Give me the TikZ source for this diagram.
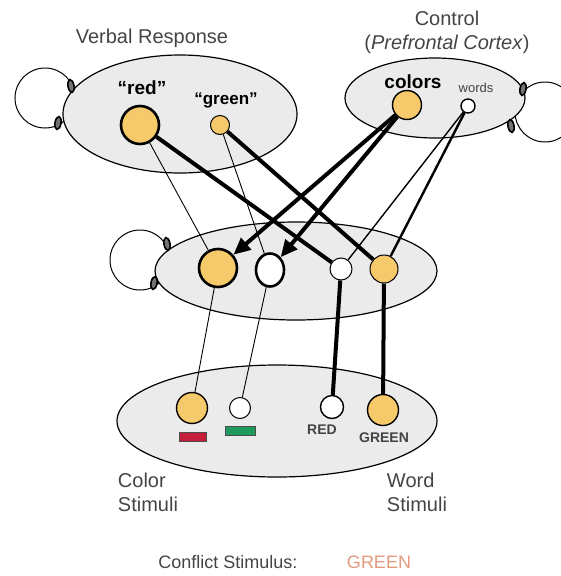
\documentclass[tikz,border=0pt]{standalone}
\usepackage{xcolor}
\usepackage{fontspec}
\setmainfont{Liberation Sans}
\usepackage{tikz}
\usetikzlibrary{arrows.meta,shapes.geometric}

\definecolor{poolgray}{HTML}{EBEBEB}
\definecolor{active}{HTML}{F6C96A}
\definecolor{txtgray}{HTML}{444444}
\definecolor{barred}{HTML}{C41E3A}
\definecolor{bargreen}{HTML}{1E9A5C}
\definecolor{conflict}{HTML}{E29A7E}

\tikzset{
  pool/.style={ellipse,draw,line width=1.2pt,fill=poolgray,inner sep=0pt},
  ring/.style={circle,draw,line width=1pt,inner sep=0pt,minimum size=60pt},
  syn/.style={ellipse,draw,line width=1.6pt,fill=black!55,inner sep=0pt,minimum width=6pt,minimum height=13pt},
  unit/.style={circle,draw,line width=1pt,inner sep=0pt,fill=white},
  on/.style={unit,fill=active},
  weak/.style={line width=0.9pt},
  mid/.style={line width=2.4pt},
  strong/.style={line width=4pt},
  attn/.style={strong,-{Triangle[length=17pt,width=15pt]}},
  title/.style={text=txtgray,font=\fontsize{20}{24}\selectfont,align=center},
  lab/.style={font=\fontsize{17}{20}\selectfont\bfseries}
}

\begin{document}
\begin{tikzpicture}[x=1pt,y=-1pt]
  \useasboundingbox (0,0) rectangle (560,576);

  \node[ring] (vloop) at (45,98) {};
  \node[ring] (hloop) at (140,260) {};
  \node[ring] (cloop) at (545,112) {};

  \node[pool,minimum width=234pt,minimum height=118pt] (verbal) at (180,114) {};
  \node[pool,minimum width=180pt,minimum height=80pt] (control) at (435,98) {};
  \node[pool,minimum width=282pt,minimum height=98pt] (hidden) at (296,271) {};
  \node[pool,minimum width=320pt,minimum height=112pt] (input) at (277,421) {};

  \node[syn,rotate=10] (vs1) at (71,86) {};
  \node[syn,rotate=-10] (vs2) at (58,123) {};
  \node[syn,rotate=10] (hs1) at (167,244) {};
  \node[syn,rotate=-10] (hs2) at (154,283) {};
  \node[syn,rotate=-10] (cs1) at (523,89) {};
  \node[syn,rotate=10] (cs2) at (511,126) {};

  \node[title] (vtitle) at (152,38) {Verbal Response};
  \node[title] (ctitle) at (447,32) {Control\\(\textit{Prefrontal Cortex})};

  \node[on,line width=2.6pt,minimum size=38pt] (red) at (140,125) {};
  \node[on,minimum size=19pt] (green) at (220,125) {};
  \node[on,line width=1.4pt,minimum size=29pt] (colors) at (407,105) {};
  \node[unit,line width=1.4pt,minimum size=14pt] (words) at (468,106) {};
  \node[lab,font=\fontsize{19}{20}\selectfont\bfseries] (redlab) at (142,88) {``red''};
  \node[lab] (greenlab) at (226,100) {``green''};
  \node[lab,font=\fontsize{19}{20}\selectfont\bfseries] (colorslab) at (413,82) {colors};
  \node[text=txtgray,font=\fontsize{13}{14}\selectfont] (wordslab) at (476,88) {words};

  \node[on,line width=2.6pt,minimum size=38pt] (hr) at (218,268) {};
  \node[ellipse,draw,fill=white,line width=2.6pt,inner sep=0pt,minimum width=28pt,minimum height=33pt] (hg) at (270,270) {};
  \node[unit,minimum size=22pt] (hR) at (341,269) {};
  \node[on,minimum size=28pt] (hG) at (384,269) {};

  \node[on,line width=1.4pt,minimum size=31pt] (cr) at (192,408) {};
  \node[unit,minimum size=21pt] (cg) at (240,408) {};
  \node[unit,line width=1.4pt,minimum size=23pt] (wr) at (332,407) {};
  \node[on,line width=1.4pt,minimum size=31pt] (wg) at (383,410) {};
  \node[draw=black!70,fill=barred,minimum width=27pt,minimum height=9pt,inner sep=0pt] (redbar) at (193,437) {};
  \node[draw=black!70,fill=bargreen,minimum width=30pt,minimum height=9pt,inner sep=0pt] (greenbar) at (240,431) {};
  \node[text=txtgray,font=\fontsize{14}{16}\selectfont\bfseries] (wrlab) at (322,430) {RED};
  \node[text=txtgray,font=\fontsize{14}{16}\selectfont\bfseries] (wglab) at (384,438) {GREEN};

  \draw[weak] (red) -- (hr);
  \draw[strong] (red) -- (hR);
  \draw[weak] (green) -- (hg);
  \draw[strong] (green) -- (hG);
  \draw[attn] (colors) -- (hr);
  \draw[attn] (colors) -- (hg);
  \draw[weak,line width=1.4pt] (words) -- (hR);
  \draw[mid] (words) -- (hG);

  \draw[weak] (hr) -- (cr);
  \draw[weak] (hg) -- (cg);
  \draw[strong] (hR) -- (wr);
  \draw[strong] (hG) -- (wg);

  \node[title,align=left] (clab) at (148,492) {Color\\Stimuli};
  \node[title,align=left] (wlab) at (417,492) {Word\\Stimuli};
  \node[text=txtgray,font=\fontsize{18}{20}\selectfont] (conflab) at (228,562) {Conflict Stimulus:};
  \node[text=conflict,font=\fontsize{18}{20}\selectfont] (conflict) at (379,562) {GREEN};
\end{tikzpicture}
\end{document}
